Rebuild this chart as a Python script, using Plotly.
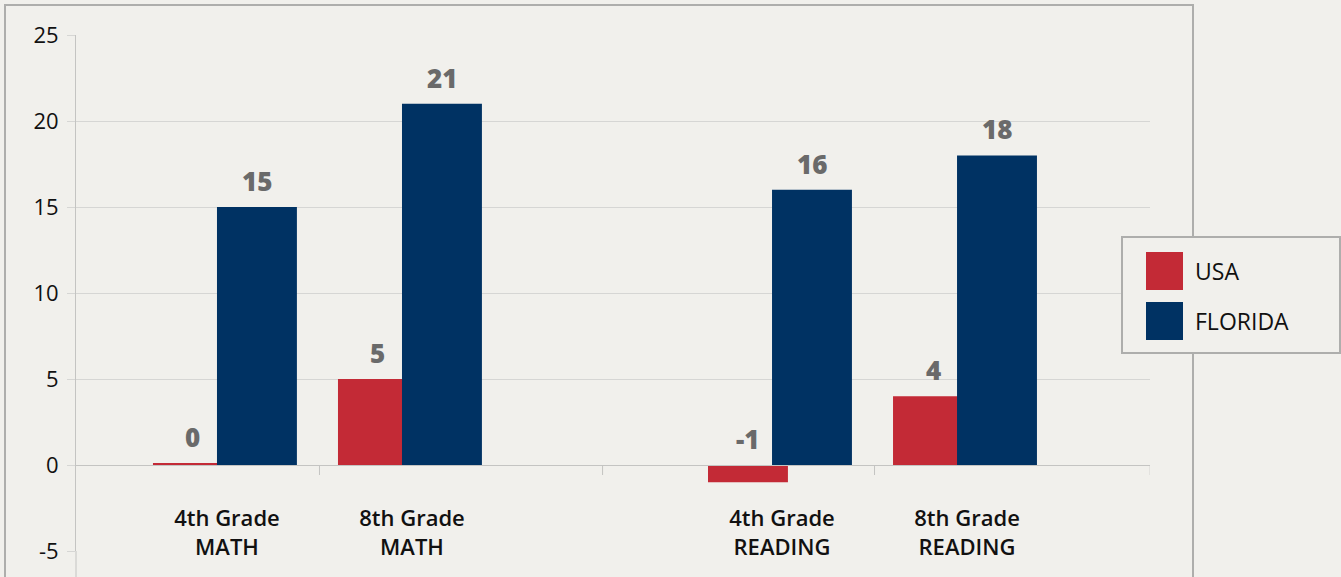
import plotly.graph_objects as go

# ─── DATA ────────────────────────────────────────────────────
CATEGORIES = ["4th Grade<br>MATH", "8th Grade<br>MATH", " ",
              "4th Grade<br>READING", "8th Grade<br>READING"]
USA = [0.1, 5, None, -1, 4]
FLORIDA = [15, 21, None, 16, 18]
SERIES = ["USA", "FLORIDA"]
Y_TICKS = [-5, 0, 5, 10, 15, 20, 25]
Y_TICKTEXT = ["-5", "0", "5", "10", "15", "20", "25"]

# ─── STYLE ───────────────────────────────────────────────────
BG = "#f1f0ec"
RED = "#c32a36"
NAVY = "#003263"
GRID = "#d6d6d4"
AXIS = "#c4c4c2"
FRAME = "#aeaeac"
LABEL = "#6a6a6a"
TEXT = "#111111"
FONT = "Open Sans, Lato, sans-serif"

W, H = 1341, 577
ML, MR, MT, MB = 76, 191, 35, 26
PW, PH = W - ML - MR, H - MT - MB


def px(x):
    return (x - ML) / PW


def py(y):
    return (H - MB - y) / PH


fig = go.Figure()

BAR_W = 0.432
OFFSETS = {"USA": -0.40, "FLORIDA": -0.054}
COLORS = {"USA": RED, "FLORIDA": NAVY}

for name, vals in zip(SERIES, [USA, FLORIDA]):
    fig.add_trace(go.Bar(
        x=CATEGORIES, y=vals, name=name,
        marker=dict(color=COLORS[name], line=dict(width=0)),
        width=BAR_W, offset=OFFSETS[name],
        showlegend=False, hoverinfo="x+y",
    ))

# value labels, always sitting above the zero line
annotations = []
for name, vals, shift in [("USA", USA, -34), ("FLORIDA", FLORIDA, 30)]:
    for c, v in zip(CATEGORIES, vals):
        if v is None:
            continue
        annotations.append(dict(
            x=c, y=max(v, 0), xref="x", yref="y",
            text=f"{round(v):d}", showarrow=False,
            xshift=shift, yshift=6, yanchor="bottom",
            font=dict(family=FONT, size=26, color=LABEL, weight=800),
        ))

# manual legend with large swatches
for i, name in enumerate(SERIES):
    top = 252 + i * 50
    annotations.append(dict(
        x=px(1193), y=py(top + 19), xref="paper", yref="paper",
        text=name, showarrow=False, xanchor="left", yanchor="middle",
        font=dict(family=FONT, size=23, color=TEXT),
    ))

shapes = [
    # outer frame
    dict(type="rect", xref="paper", yref="paper",
         x0=px(5), x1=px(1193), y0=py(600), y1=py(5),
         line=dict(color=FRAME, width=2), layer="below"),
    # legend box
    dict(type="rect", xref="paper", yref="paper",
         x0=px(1122), x1=px(1340), y0=py(353), y1=py(237),
         line=dict(color=FRAME, width=2), fillcolor=BG),
    # y axis line running on below the last tick
    dict(type="line", xref="paper", yref="paper",
         x0=0, x1=0, y0=py(577), y1=0,
         line=dict(color=AXIS, width=1)),
]
for i, name in enumerate(SERIES):
    top = 252 + i * 50
    shapes.append(dict(type="rect", xref="paper", yref="paper",
                       x0=px(1146), x1=px(1183), y0=py(top + 38), y1=py(top),
                       line=dict(width=0), fillcolor=COLORS[name]))

# small x tick marks hanging below the zero line
for xv in [0.5, 2.03, 3.5, 4.99]:
    shapes.append(dict(type="line", xref="x", yref="y", ysizemode="pixel",
                       yanchor=0, x0=xv, x1=xv, y0=0, y1=-10,
                       line=dict(color=AXIS, width=1)))

fig.update_layout(
    width=W, height=H,
    paper_bgcolor=BG, plot_bgcolor=BG,
    margin=dict(l=ML, r=MR, t=MT, b=MB),
    barmode="overlay",
    font=dict(family=FONT, color=TEXT),
    annotations=annotations,
    shapes=shapes,
    showlegend=False,
    xaxis=dict(
        type="category", categoryorder="array", categoryarray=CATEGORIES,
        range=[-0.816, 4.989],
        anchor="free", position=5 / 30,
        showline=True, linecolor=AXIS, linewidth=1,
        showgrid=False, ticks="",
        ticklabelstandoff=34,
        tickfont=dict(family=FONT, size=22, color=TEXT, weight=600),
    ),
    yaxis=dict(
        range=[-5, 25], tickvals=Y_TICKS, ticktext=Y_TICKTEXT,
        showgrid=True, gridcolor=GRID, gridwidth=1,
        zeroline=False,
        showline=True, linecolor=AXIS, linewidth=1,
        ticks="outside", ticklen=8, tickcolor=GRID,
        ticklabelstandoff=4,
        tickfont=dict(family=FONT, size=22, color=TEXT),
    ),
)

fig.write_html("out.html", config={"displayModeBar": False},
               post_script="document.body.style.margin='0';")
